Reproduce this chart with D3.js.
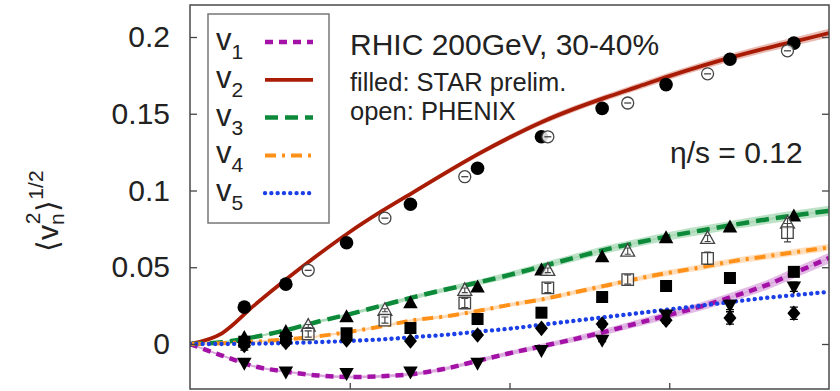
<!DOCTYPE html>
<html>
<head>
<meta charset="utf-8">
<script src="https://cdn.jsdelivr.net/npm/d3@7"></script>
<style>
  body { margin: 0; background: #fff; }
  svg { display: block; font-family: "Liberation Sans", Arial, Helvetica, sans-serif; }
</style>
</head>
<body>
<svg id="chart" width="840" height="391"></svg>
<script>
// ---- hydro calculation (eta/s = 0.12), pT grid in GeV ----
const ptGrid = [0, 0.1, 0.2, 0.3, 0.4, 0.5, 0.6, 0.7, 0.8, 0.9, 1.0, 1.1, 1.2, 1.3, 1.4, 1.5, 1.6, 1.7, 1.8, 1.9, 2.0];
const v1Calc = [0, -0.0075, -0.0145, -0.018, -0.0205, -0.0215, -0.021, -0.0195, -0.016, -0.011, -0.006, -0.0015, 0.003, 0.008, 0.0135, 0.019, 0.0245, 0.031, 0.038, 0.047, 0.056];
const v2Calc = [0, 0.007, 0.025, 0.042, 0.058, 0.073, 0.0865, 0.099, 0.1115, 0.1235, 0.1345, 0.1445, 0.153, 0.1605, 0.1675, 0.1745, 0.181, 0.187, 0.1925, 0.1975, 0.2025];
const v3Calc = [0, 0.0012, 0.0045, 0.009, 0.0145, 0.0195, 0.025, 0.0305, 0.0355, 0.040, 0.045, 0.0505, 0.056, 0.0615, 0.066, 0.0703, 0.074, 0.0776, 0.081, 0.084, 0.0868];
const v4Calc = [0, 0.0005, 0.0015, 0.003, 0.005, 0.008, 0.0115, 0.0155, 0.018, 0.0215, 0.0255, 0.029, 0.0335, 0.038, 0.0425, 0.0465, 0.050, 0.054, 0.057, 0.060, 0.063];
const v5Calc = [0, 0, 0.0002, 0.0006, 0.0012, 0.002, 0.003, 0.0045, 0.006, 0.008, 0.010, 0.0125, 0.015, 0.0175, 0.020, 0.0225, 0.025, 0.0275, 0.030, 0.032, 0.034];
// statistical uncertainty of the calculation (half width)
const v1Unc = [0.0005, 0.0005, 0.0006, 0.0007, 0.0008, 0.0009, 0.001, 0.0011, 0.0012, 0.0014, 0.0015, 0.0017, 0.0019, 0.0021, 0.0023, 0.0025, 0.0027, 0.0029, 0.0031, 0.0033, 0.0035];
const v2Unc = [0, 0.0003, 0.0005, 0.0007, 0.0009, 0.001, 0.0012, 0.0013, 0.0015, 0.0016, 0.0018, 0.0019, 0.002, 0.0021, 0.0022, 0.0023, 0.0024, 0.0025, 0.0026, 0.0027, 0.0028];
const v3Unc = [0, 0.0003, 0.0005, 0.0007, 0.0009, 0.0011, 0.0013, 0.0015, 0.0017, 0.0019, 0.0021, 0.0022, 0.0024, 0.0025, 0.0026, 0.0027, 0.0028, 0.0029, 0.003, 0.0031, 0.0032];
const v4Unc = [0, 0.0002, 0.0004, 0.0005, 0.0006, 0.0008, 0.0009, 0.001, 0.0011, 0.0012, 0.0013, 0.0014, 0.0015, 0.0016, 0.0017, 0.0018, 0.0019, 0.002, 0.0021, 0.0022, 0.0023];

// ---- STAR preliminary (filled symbols) ----
const starPt = [0.17, 0.30, 0.49, 0.69, 0.90, 1.10, 1.29, 1.49, 1.69, 1.89];
const starV1 = [-0.0124, -0.018, -0.019, -0.018, -0.0124, -0.004, 0.0026, 0.019, 0.0254, 0.0373];
const starV1Err = [0, 0, 0, 0, 0, 0, 0.001, 0.002, 0.003, 0.003];
const starV2 = [0.024, 0.039, 0.066, 0.091, 0.1145, 0.135, 0.1535, 0.169, 0.1855, 0.196];
const starV3 = [0.004, 0.008, 0.0176, 0.0267, 0.037, 0.048, 0.0566, 0.069, 0.076, 0.0833];
const starV4 = [0.0015, 0.004, 0.007, 0.0104, 0.0163, 0.0204, 0.0306, 0.0378, 0.043, 0.047];
const starV5 = [-0.001, 0.001, 0.0026, 0.002, 0.0059, 0.0102, 0.013, 0.0155, 0.017, 0.020];
const starV5Err = [0.003, 0.002, 0.001, 0.001, 0.001, 0.001, 0.002, 0.002, 0.004, 0.004];

// ---- PHENIX (open symbols) ----
const phenixPt = [0.37, 0.61, 0.86, 1.12, 1.37, 1.62, 1.87];
const phenixV2 = [0.048, 0.082, 0.109, 0.135, 0.157, 0.176, 0.191];
const phenixV3 = [0.0117, 0.022, 0.035, 0.048, 0.0605, 0.0688, 0.0788];
const phenixV3Err = [0.001, 0.001, 0.0015, 0.0015, 0.002, 0.002, 0.003];
const phenixV4 = [0.0065, 0.0156, 0.0267, 0.0365, 0.042, 0.0558, 0.0725];
const phenixV4Err = [0.002, 0.002, 0.003, 0.003, 0.003, 0.004, 0.006];

const yTicks = [0, 0.05, 0.1, 0.15, 0.2];
const xTicks = [0.5, 1.0, 1.5];

const harmonics = [
  { name: "1", calc: v1Calc, unc: v1Unc, color: "#a311a6", band: "#d9a6dc", dash: "8,6", width: 4.5, cap: "butt" },
  { name: "2", calc: v2Calc, unc: v2Unc, color: "#a81c06", band: "#e3a49a", dash: null, width: 3.8, cap: "butt" },
  { name: "3", calc: v3Calc, unc: v3Unc, color: "#0c8a3a", band: "#a7d8b4", dash: "13,7", width: 4.5, cap: "butt" },
  { name: "4", calc: v4Calc, unc: v4Unc, color: "#ff9018", band: "#ffd7ad", dash: "11,6,3,6", width: 4, cap: "butt" },
  { name: "5", calc: v5Calc, unc: null, color: "#1a3fe6", band: null, dash: "0.1,6.2", width: 4.3, cap: "round" }
];

const svg = d3.select("#chart");
const x = d3.scaleLinear().domain([0, 2]).range([190, 829]);
const y = d3.scaleLinear().domain([0, 0.2]).range([344, 37]);
const frame = { left: 190, right: 829, top: 5, bottom: 389 };

svg.append("defs").append("clipPath").attr("id", "plotClip")
  .append("rect").attr("x", frame.left).attr("y", frame.top)
  .attr("width", frame.right - frame.left).attr("height", frame.bottom - frame.top);

const plot = svg.append("g").attr("clip-path", "url(#plotClip)");

// uncertainty bands
const area = d3.area().curve(d3.curveMonotoneX)
  .x(d => x(d.pt)).y0(d => y(d.v - d.e)).y1(d => y(d.v + d.e));
harmonics.filter(h => h.unc).forEach(h => {
  const rows = ptGrid.map((pt, i) => ({ pt, v: h.calc[i], e: h.unc[i] }));
  plot.append("path").datum(rows).attr("d", area)
    .attr("fill", h.band).attr("opacity", 0.75);
  plot.append("path").datum(rows)
    .attr("d", d3.line().curve(d3.curveMonotoneX).x(d => x(d.pt)).y(d => y(d.v)))
    .attr("fill", "none").attr("stroke", h.band).attr("stroke-width", 1.8);
});

// calculated curves
const line = d3.line().curve(d3.curveMonotoneX).x(d => x(d.pt)).y(d => y(d.v));
harmonics.forEach(h => {
  const rows = ptGrid.map((pt, i) => ({ pt, v: h.calc[i] }));
  plot.append("path").datum(rows).attr("d", line)
    .attr("fill", "none").attr("stroke", h.color)
    .attr("stroke-width", h.width)
    .attr("stroke-linecap", h.cap)
    .attr("stroke-dasharray", h.dash);
});

// symbol shapes
const shapes = {
  up: s => `M0,${-s * 0.62}L${s * 0.58},${s * 0.42}L${-s * 0.58},${s * 0.42}Z`,
  down: s => `M0,${s * 0.62}L${s * 0.58},${-s * 0.42}L${-s * 0.58},${-s * 0.42}Z`,
  square: s => `M${-s / 2},${-s / 2}h${s}v${s}h${-s}Z`,
  diamond: s => `M0,${-s * 0.6}L${s * 0.5},0L0,${s * 0.6}L${-s * 0.5},0Z`
};

function errorBars(g, pts, vals, errs, color) {
  pts.forEach((pt, i) => {
    if (!errs || !errs[i]) return;
    const cx = x(pt), y0 = y(vals[i] - errs[i]), y1 = y(vals[i] + errs[i]);
    g.append("path")
      .attr("d", `M${cx},${y0}V${y1}M${cx - 4},${y0}h8M${cx - 4},${y1}h8`)
      .attr("stroke", color).attr("stroke-width", 1.3).attr("fill", "none");
  });
}

const marks = plot.append("g");

// STAR filled symbols
function filled(vals, shape, size, errs) {
  errorBars(marks, starPt, vals, errs, "#000");
  marks.selectAll(null).data(starPt.map((pt, i) => ({ pt, v: vals[i] }))).join("path")
    .attr("transform", d => `translate(${x(d.pt)},${y(d.v)})`)
    .attr("d", shapes[shape](size)).attr("fill", "#000");
}
filled(starV5, "diamond", 13, starV5Err);
filled(starV1, "down", 12.5, starV1Err);
filled(starV4, "square", 12, null);
filled(starV3, "up", 12.5, null);
marks.selectAll(null).data(starPt.map((pt, i) => ({ pt, v: starV2[i] }))).join("circle")
  .attr("cx", d => x(d.pt)).attr("cy", d => y(d.v)).attr("r", 6.8).attr("fill", "#000");

// PHENIX open symbols
const openStroke = "#444";
marks.selectAll(null).data(phenixPt.map((pt, i) => ({ pt, v: phenixV3[i], e: phenixV3Err[i] }))).join("g")
  .attr("transform", d => `translate(${x(d.pt)},${y(d.v)})`)
  .each(function (d) {
    const g = d3.select(this);
    g.append("path").attr("d", shapes.up(12)).attr("fill", "#fff").attr("fill-opacity", 0.85)
      .attr("stroke", openStroke).attr("stroke-width", 1.3);
    const h = y(0) - y(d.e);
    g.append("path").attr("d", `M0,${-h}V${h}M-3,${-h}h6M-3,${h}h6`)
      .attr("stroke", openStroke).attr("stroke-width", 1.1);
  });
marks.selectAll(null).data(phenixPt.map((pt, i) => ({ pt, v: phenixV4[i], e: phenixV4Err[i] }))).join("g")
  .attr("transform", d => `translate(${x(d.pt)},${y(d.v)})`)
  .each(function (d) {
    const g = d3.select(this);
    g.append("path").attr("d", shapes.square(11.5)).attr("fill", "#fff").attr("fill-opacity", 0.85)
      .attr("stroke", openStroke).attr("stroke-width", 1.3);
    const h = y(0) - y(d.e);
    g.append("path").attr("d", `M0,${-h}V${h}M-3.5,${-h}h7M-3.5,${h}h7`)
      .attr("stroke", openStroke).attr("stroke-width", 1.2);
  });
marks.selectAll(null).data(phenixPt.map((pt, i) => ({ pt, v: phenixV2[i] }))).join("g")
  .attr("transform", d => `translate(${x(d.pt)},${y(d.v)})`)
  .each(function () {
    const g = d3.select(this);
    g.append("circle").attr("r", 6).attr("fill", "#fff").attr("fill-opacity", 0.85)
      .attr("stroke", openStroke).attr("stroke-width", 1.3);
    g.append("path").attr("d", "M-3.5,0H3.5").attr("stroke", openStroke).attr("stroke-width", 1.3);
  });

// axes (ticks point into the frame)
const axisStyle = g => {
  g.select(".domain").remove();
  g.selectAll(".tick line").attr("stroke", "#444").attr("stroke-width", 1.3);
  g.selectAll("text").attr("fill", "#222").attr("font-size", 30)
    .attr("font-family", '"Liberation Sans", Arial, sans-serif');
};
svg.append("g").attr("transform", `translate(${frame.left},0)`)
  .call(d3.axisLeft(y).tickValues(yTicks).tickSizeInner(-7).tickSizeOuter(0)
    .tickPadding(20).tickFormat(d => String(d)))
  .call(axisStyle);
svg.append("g").attr("transform", `translate(${frame.right},0)`)
  .call(d3.axisRight(y).tickValues(yTicks).tickSizeInner(-7).tickSizeOuter(0).tickFormat(""))
  .call(axisStyle);
svg.append("g").attr("transform", `translate(0,${frame.bottom})`)
  .call(d3.axisBottom(x).tickValues(xTicks).tickSizeInner(-6).tickSizeOuter(0).tickFormat(""))
  .call(axisStyle);

// frame
svg.append("rect").attr("x", frame.left).attr("y", frame.top)
  .attr("width", frame.right - frame.left).attr("height", frame.bottom - frame.top)
  .attr("fill", "none").attr("stroke", "#4a4a4a").attr("stroke-width", 1.5);

// y-axis title: <v_n^2>^(1/2)
const yTitle = svg.append("text")
  .attr("transform", "translate(58,252) rotate(-90)")
  .attr("font-size", 30).attr("fill", "#222");
yTitle.append("tspan").text("\u27E8v");
yTitle.append("tspan").attr("font-size", 21).attr("dy", 6).text("n");
yTitle.append("tspan").attr("font-size", 21).attr("dx", -11).attr("dy", -24).text("2");
yTitle.append("tspan").attr("dx", 1).attr("dy", 18).text("\u27E9");
yTitle.append("tspan").attr("font-size", 21).attr("dy", -15).text("1/2");

// legend
const legend = svg.append("g");
legend.append("rect").attr("x", 208).attr("y", 14).attr("width", 121).attr("height", 209)
  .attr("fill", "#fff").attr("stroke", "#777").attr("stroke-width", 1.5);
harmonics.forEach((h, i) => {
  const cy = 42 + i * 37.8;
  const t = legend.append("text").attr("x", 216).attr("y", cy + 8).attr("font-size", 31).attr("fill", "#222");
  t.append("tspan").text("v");
  t.append("tspan").attr("font-size", 21).attr("dy", 9).text(h.name);
  legend.append("line").attr("x1", 265).attr("x2", 313).attr("y1", cy).attr("y2", cy)
    .attr("stroke", h.color).attr("stroke-width", h.width)
    .attr("stroke-linecap", h.cap).attr("stroke-dasharray", h.dash);
});

// annotations
const notes = svg.append("g").attr("fill", "#222");
notes.append("text").attr("x", 350).attr("y", 55).attr("font-size", 30).text("RHIC 200GeV, 30-40%");
notes.append("text").attr("x", 350).attr("y", 91).attr("font-size", 25.5).text("filled: STAR prelim.");
notes.append("text").attr("x", 350).attr("y", 120).attr("font-size", 25.5).text("open: PHENIX");
notes.append("text").attr("x", 670).attr("y", 163).attr("font-size", 30).text("\u03B7/s = 0.12");
</script>
</body>
</html>
